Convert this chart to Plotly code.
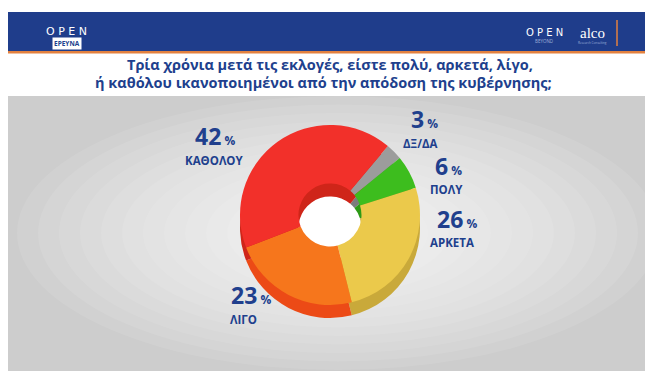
import plotly.graph_objects as go

W, H = 653, 374

# ---- data ----
categories = ["ΔΞ/ΔΑ", "ΠΟΛΥ", "ΑΡΚΕΤΑ", "ΛΙΓΟ", "ΚΑΘΟΛΟΥ"]
values = [3, 6, 26, 23, 42]
title_lines = [
    "Τρία χρόνια μετά τις εκλογές, είστε πολύ, αρκετά, λίγο,",
    "ή καθόλου ικανοποιημένοι από την απόδοση της κυβέρνησης;",
]

# ---- styles ----
top_colors = ["#9c9c9c", "#3dbd1e", "#ebc94b", "#f6761c", "#f2302a"]
side_colors = ["#7c7c7c", "#2d9a16", "#c9a93a", "#ec4a16", "#cf2519"]
NAVY = "#203f8d"
FONT = "Open Sans, Noto Sans, sans-serif"

def px(x):
    return x / W

def py(y):
    return 1 - y / H

cx, cy, r = 322, 207, 90
depth = 13
hole = 0.35
rotation = 40

fig = go.Figure()

# side (depth) of the donut
fig.add_trace(go.Pie(
    values=values, labels=categories, sort=False, direction="clockwise",
    rotation=rotation, hole=hole, textinfo="none", hoverinfo="skip",
    marker=dict(colors=side_colors, line=dict(width=0)),
    domain=dict(x=[px(cx - r), px(cx + r)], y=[py(cy + depth + r), py(cy + depth - r)]),
    showlegend=False,
))
# top face
fig.add_trace(go.Pie(
    values=values, labels=categories, sort=False, direction="clockwise",
    rotation=rotation, hole=hole, textinfo="none", hoverinfo="skip",
    marker=dict(colors=top_colors, line=dict(width=0)),
    domain=dict(x=[px(cx - r), px(cx + r)], y=[py(cy + r), py(cy - r)]),
    showlegend=False,
))

shapes = []
# header bar
shapes.append(dict(type="rect", xref="paper", yref="paper", x0=0, x1=px(643), y0=py(43), y1=py(4),
                   fillcolor="#1f3d8b", line=dict(width=0), layer="below"))
shapes.append(dict(type="rect", xref="paper", yref="paper", x0=0, x1=px(643), y0=py(45.5), y1=py(43),
                   fillcolor="#e3813f", line=dict(width=0), layer="below"))
# gray backdrop with soft radial light
shapes.append(dict(type="rect", xref="paper", yref="paper", x0=0, x1=px(643), y0=py(363), y1=py(88),
                   fillcolor="#cdcdcd", line=dict(width=0), layer="below"))
n_layers = 14
for i in range(n_layers):
    sx = 321 - i * 21
    sy = 137 - i * 8.5
    shapes.append(dict(type="circle", xref="paper", yref="paper",
                       x0=px(330 - sx), x1=px(330 + sx), y0=py(225 + sy), y1=py(225 - sy),
                       fillcolor="white", opacity=0.09, line=dict(width=0), layer="below"))
# white center of the hole
hr = r * hole
shapes.append(dict(type="circle", xref="paper", yref="paper",
                   x0=px(cx - hr), x1=px(cx + hr), y0=py(cy + hr + depth), y1=py(cy - hr),
                   fillcolor="white", line=dict(width=0), layer="below"))
# orange bar next to logo
shapes.append(dict(type="line", xref="paper", yref="paper", x0=px(609), x1=px(609), y0=py(38), y1=py(12),
                   line=dict(color="#e3813f", width=1.5)))

annotations = []

def ann(text, x, y, size, color=NAVY, family=FONT, yanchor="middle", **kw):
    annotations.append(dict(text=text, x=px(x), y=py(y), xref="paper", yref="paper",
                            showarrow=False, xanchor=kw.pop("xanchor", "center"), yanchor=yanchor,
                            font=dict(size=size, color=color, family=family), **kw))

# title
ann("<b>" + title_lines[0] + "</b>", 322, 57, 14.5)
ann("<b>" + title_lines[1] + "</b>", 315, 74, 14.5)

# logos
ann("Ο Ρ Ε Ν", 59, 23, 11, color="white", family="DejaVu Sans")
ann("<b>ΕΡΕΥΝΑ</b>", 59, 36, 6.5, color=NAVY, bgcolor="white", borderpad=1)
ann("Ο Ρ Ε Ν", 536, 24, 10, color="white", family="DejaVu Sans")
ann("BEYOND", 536, 33, 4.5, color="#9fb0d8")
ann("alco", 584, 25, 15, color="white", family="Liberation Serif")
ann("Research Consulting", 584, 35, 3, color="#9fb0d8")

# value labels: (number centre x, label centre x, label centre y)
label_pos = {
    "ΚΑΘΟΛΟΥ": (207, 207, 152),
    "ΔΞ/ΔΑ": (416, 412, 135),
    "ΠΟΛΥ": (440, 438, 182),
    "ΑΡΚΕΤΑ": (449, 444, 235),
    "ΛΙΓΟ": (243, 236, 311),
}
for cat, val in zip(categories, values):
    nx, lx, ly = label_pos[cat]
    ann("<b>%d</b><span style='font-size:12px'><b> %%</b></span>" % val, nx, ly - 7, 23,
        yanchor="bottom", borderpad=0)
    ann("<b>" + cat + "</b>", lx, ly, 11.5, yanchor="middle", borderpad=0)

fig.update_layout(
    width=W, height=H, margin=dict(l=0, r=0, t=0, b=0),
    paper_bgcolor="white", plot_bgcolor="white",
    shapes=shapes, annotations=annotations, showlegend=False,
)

fig.write_html("out.html")
